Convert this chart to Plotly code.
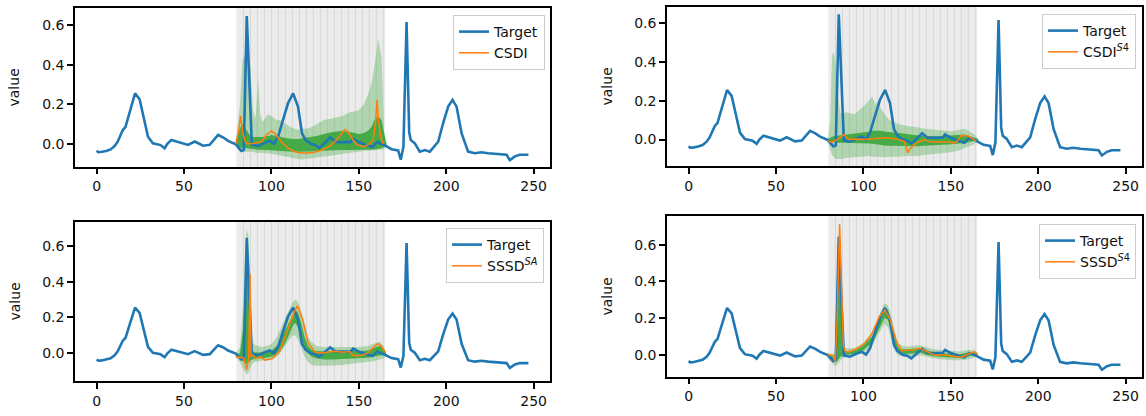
import plotly.graph_objects as go

# ---------------- data ----------------
target_x = [0, 1, 3, 5.5, 8, 10.3, 12, 15, 16.5, 19, 21, 22, 24.6, 27, 29.4, 32.2, 36.6, 38.9, 40.5, 42.8,
            47.5, 52.3, 56.1, 60.9, 64.7, 67.2, 69.5, 72.5, 75.2, 79.6, 82.8, 84.2, 85.9, 88.8, 92.3, 95.5,
            99, 101.5, 103.8, 106.6, 109.5, 112.4, 115.2, 117.5, 119.5, 122.5, 125, 127.4, 130, 133.6, 136.5,
            138.7, 145.3, 146.7, 150, 154.9, 157.7, 160.6, 163, 164.9, 168.7, 172.5, 174, 175.5, 177.3, 178.8,
            179.7, 182, 184.9, 187.8, 190.6, 193.5, 195.4, 198.2, 201.1, 203.6, 205.9, 208.8, 212.5, 216.3,
            220.1, 224, 228, 231.6, 234.5, 236.4, 239.3, 242, 247]
target_y = [-0.035, -0.042, -0.04, -0.036, -0.028, -0.011, 0.01, 0.07, 0.085, 0.163, 0.22, 0.255, 0.225, 0.13,
            0.036, 0.003, -0.006, -0.022, 0.0, 0.02, 0.006, -0.005, 0.012, -0.009, -0.005, 0.023, 0.045, 0.032,
            0.015, -0.002, -0.035, -0.03, 0.645, -0.004, -0.011, 0.003, 0.016, 0.0, 0.036, 0.12, 0.205, 0.255,
            0.188, 0.053, 0.02, 0.0, -0.005, -0.02, 0.0, 0.033, 0.011, 0.009, 0.009, 0.026, 0.009, -0.008, -0.016,
            0.009, 0.0, -0.008, -0.027, -0.033, -0.08, -0.014, 0.615, 0.06, 0.02, 0.003, -0.039, -0.031, -0.039,
            -0.006, 0.011, 0.104, 0.188, 0.222, 0.188, 0.053, -0.039, -0.047, -0.042, -0.047, -0.05, -0.055,
            -0.055, -0.082, -0.063, -0.055, -0.055]

# CSDI (top-left)
csdi_x = [79.6, 81.3, 82.4, 83.7, 85, 86.5, 90.3, 94.3, 97.1, 100, 101.9, 105.7, 109.5, 114.3, 119, 124.8,
          128.6, 133.4, 137.2, 140, 141.9, 143.8, 146.7, 149, 151, 153.4, 156.3, 158.2, 159.5, 160.4, 161.4,
          162.5, 163.9]
csdi_y = [0.0, 0.07, 0.14, 0.053, 0.013, 0.0, 0.003, 0.011, 0.045, 0.065, 0.053, 0.011, -0.022, -0.042,
          -0.047, -0.042, -0.032, -0.011, 0.02, 0.053, 0.073, 0.061, 0.02, -0.005, -0.01, -0.014, 0.003, 0.02,
          0.104, 0.221, 0.104, 0.036, 0.0]
csdi_band_x = [79.6, 81, 82, 83.4, 85, 86.5, 88, 89.5, 91, 92.3, 93.6, 95, 98, 100, 103, 105, 108, 112, 116,
               118, 122, 126, 130, 135, 140, 145, 150, 153, 155.8, 157.5, 158.9, 161, 163, 164.4, 165.5, 166]
csdi_q95 = [0.0, 0.1, 0.2, 0.42, 0.45, 0.44, 0.38, 0.17, 0.13, 0.34, 0.15, 0.11, 0.15, 0.14, 0.12, 0.12, 0.1,
            0.08, 0.07, 0.075, 0.08, 0.1, 0.12, 0.13, 0.14, 0.16, 0.17, 0.2, 0.26, 0.32, 0.39, 0.53, 0.44, 0.06,
            0.01, 0.0]
csdi_q05 = [0.0, -0.03, -0.04, -0.04, -0.04, -0.04, -0.04, -0.04, -0.045, -0.045, -0.045, -0.045, -0.047,
            -0.05, -0.055, -0.06, -0.065, -0.072, -0.078, -0.078, -0.072, -0.068, -0.063, -0.058, -0.05, -0.045,
            -0.04, -0.035, -0.035, -0.033, -0.03, -0.03, -0.03, -0.025, -0.015, 0.0]
csdi_q75 = [0.0, 0.05, 0.08, 0.1, 0.08, 0.06, 0.04, 0.035, 0.035, 0.035, 0.035, 0.035, 0.04, 0.045, 0.04,
            0.035, 0.03, 0.025, 0.025, 0.03, 0.035, 0.04, 0.05, 0.06, 0.065, 0.06, 0.05, 0.055, 0.07, 0.09,
            0.12, 0.14, 0.12, 0.05, 0.01, 0.0]
csdi_q25 = [0.0, -0.01, -0.018, -0.02, -0.022, -0.025, -0.027, -0.028, -0.03, -0.03, -0.03, -0.03, -0.031,
            -0.032, -0.034, -0.036, -0.038, -0.04, -0.04, -0.04, -0.039, -0.037, -0.035, -0.032, -0.031, -0.031,
            -0.031, -0.031, -0.031, -0.03, -0.028, -0.026, -0.022, -0.015, -0.008, 0.0]

# CSDI^S4 (top-right)
csdis4_x = [79.6, 81.5, 84, 86, 89, 90.5, 92, 96, 100, 104, 108, 113, 118.7, 123.4, 125.3, 126.5, 128.2, 131,
            134.9, 137, 139.6, 145, 149.1, 152, 154, 155.8, 159.6, 162.5, 164.4]
csdis4_y = [-0.005, -0.014, -0.005, 0.005, 0.026, 0.01, 0.0, 0.003, 0.0, 0.002, 0.005, 0.009, 0.003, -0.009,
            -0.068, -0.05, -0.034, -0.015, 0.0, -0.008, -0.012, -0.012, -0.012, -0.017, -0.005, 0.02, 0.02,
            0.003, -0.009]
csdis4_band_x = [79.6, 81, 82, 83, 84, 85, 87, 90, 95, 100, 103, 105, 107, 108.5, 110, 112, 115, 120, 125, 130,
                 135, 140, 145, 150, 155, 158, 160, 163, 165, 166]
csdis4_q95 = [0.0, 0.1, 0.43, 0.45, 0.4, 0.25, 0.13, 0.14, 0.13, 0.17, 0.2, 0.22, 0.18, 0.2, 0.16, 0.13, 0.1,
              0.08, 0.07, 0.065, 0.055, 0.05, 0.045, 0.043, 0.05, 0.055, 0.045, 0.03, 0.01, 0.0]
csdis4_q05 = [-0.01, -0.05, -0.08, -0.09, -0.1, -0.1, -0.1, -0.095, -0.09, -0.085, -0.085, -0.088, -0.09, -0.09,
              -0.09, -0.09, -0.09, -0.088, -0.085, -0.085, -0.08, -0.075, -0.07, -0.065, -0.055, -0.045, -0.038,
              -0.025, -0.012, 0.0]
csdis4_q75 = [0.0, 0.01, 0.015, 0.017, 0.02, 0.02, 0.022, 0.025, 0.03, 0.035, 0.04, 0.045, 0.046, 0.046, 0.045,
              0.042, 0.038, 0.034, 0.028, 0.022, 0.018, 0.017, 0.018, 0.02, 0.024, 0.026, 0.02, 0.012, 0.004, 0.0]
csdis4_q25 = [-0.01, -0.012, -0.015, -0.016, -0.017, -0.017, -0.017, -0.017, -0.017, -0.018, -0.02, -0.022,
              -0.025, -0.027, -0.028, -0.03, -0.032, -0.033, -0.034, -0.034, -0.032, -0.03, -0.027, -0.024, -0.02,
              -0.017, -0.014, -0.008, -0.004, 0.0]

# SSSD^SA (bottom-left)
sssdsa_x = [79.6, 82, 84.2, 85.9, 87.0, 87.8, 88.3, 89.3, 91, 93.5, 96.4, 100.5, 104.6, 108.7, 112.8, 114.9,
            117.9, 121, 125.1, 129.2, 135.4, 141.5, 144.6, 146.6, 151.7, 155.8, 158.9, 161, 163, 165]
sssdsa_y = [-0.02, -0.022, -0.026, -0.092, -0.03, 0.443, -0.02, -0.01, -0.03, -0.02, -0.039, -0.03, 0.011, 0.113,
            0.224, 0.265, 0.187, 0.057, 0.006, 0.002, 0.011, 0.006, 0.011, -0.013, -0.013, 0.006, 0.039, 0.054,
            0.039, 0.006]
sssdsa_band_x = [79.6, 82, 84, 85, 85.8, 86.8, 88, 89, 90, 92, 95, 100, 103, 105, 108, 110, 112, 113.5, 115, 117,
                 119, 121, 123, 126, 130, 135, 140, 145, 150, 155, 158, 160, 162, 164, 165.5]
sssdsa_q95 = [0.0, 0.03, 0.3, 0.6, 0.69, 0.66, 0.35, 0.08, 0.05, 0.04, 0.035, 0.05, 0.09, 0.13, 0.2, 0.24, 0.28,
              0.3, 0.29, 0.24, 0.16, 0.09, 0.06, 0.04, 0.035, 0.035, 0.035, 0.035, 0.035, 0.04, 0.05, 0.06, 0.065,
              0.04, 0.01]
sssdsa_q05 = [-0.02, -0.05, -0.09, -0.11, -0.12, -0.11, -0.08, -0.06, -0.05, -0.045, -0.04, -0.035, -0.02, 0.0,
              0.04, 0.07, 0.1, 0.1, 0.08, 0.03, -0.02, -0.05, -0.065, -0.07, -0.07, -0.068, -0.065, -0.06, -0.055,
              -0.05, -0.045, -0.04, -0.035, -0.03, -0.02]
sssdsa_q75 = [-0.005, 0.0, 0.15, 0.45, 0.62, 0.55, 0.2, 0.02, 0.005, 0.003, 0.003, 0.015, 0.04, 0.07, 0.13, 0.17,
              0.21, 0.24, 0.23, 0.17, 0.09, 0.04, 0.02, 0.012, 0.01, 0.012, 0.012, 0.012, 0.012, 0.015, 0.025,
              0.035, 0.04, 0.025, 0.005]
sssdsa_q25 = [-0.015, -0.03, -0.045, -0.055, -0.06, -0.055, -0.04, -0.035, -0.032, -0.03, -0.028, -0.02, -0.005,
              0.01, 0.06, 0.1, 0.15, 0.17, 0.15, 0.09, 0.03, 0.0, -0.02, -0.03, -0.035, -0.035, -0.033, -0.032,
              -0.03, -0.025, -0.02, -0.015, -0.012, -0.01, -0.005]

# SSSD^S4 (bottom-right)
sssds4_x = [79.7, 82.8, 83.9, 85, 86.4, 87.5, 88.5, 89.8, 92.3, 96.5, 100.7, 104.9, 109.1, 112.3, 115.4, 118.6,
            121.7, 128, 132.2, 136.5, 140.7, 147, 153.3, 157.5, 160.6, 163.8, 164.9]
sssds4_y = [0.0, -0.004, -0.038, 0.2, 0.713, 0.35, 0.05, 0.016, 0.016, 0.035, 0.062, 0.116, 0.207, 0.244, 0.189,
            0.08, 0.022, 0.025, 0.035, 0.016, -0.002, -0.002, -0.011, -0.011, 0.007, 0.016, 0.004]
sssds4_band_x = [79.6, 82, 83.5, 84.5, 85.3, 86.2, 87, 88, 89, 90, 95, 100, 105, 108, 110, 112, 114, 116, 118,
                 120, 123, 126, 130, 133, 136, 140, 145, 150, 155, 160, 163, 165.5]
sssds4_q95 = [0.01, 0.0, 0.0, 0.3, 0.6, 0.66, 0.55, 0.2, 0.05, 0.035, 0.035, 0.065, 0.12, 0.19, 0.24, 0.28, 0.27,
              0.21, 0.12, 0.06, 0.045, 0.045, 0.05, 0.05, 0.04, 0.03, 0.025, 0.02, 0.018, 0.025, 0.025, 0.01]
sssds4_q05 = [-0.02, -0.045, -0.06, -0.06, -0.05, -0.04, -0.03, -0.02, -0.015, -0.01, -0.005, 0.01, 0.05, 0.1,
              0.14, 0.17, 0.15, 0.08, 0.02, -0.005, -0.01, -0.01, -0.005, -0.005, -0.01, -0.02, -0.025, -0.03,
              -0.03, -0.025, -0.015, -0.01]
sssds4_q75 = [0.005, -0.01, -0.015, 0.2, 0.5, 0.64, 0.45, 0.12, 0.03, 0.02, 0.022, 0.05, 0.1, 0.16, 0.21, 0.255,
              0.245, 0.18, 0.09, 0.035, 0.03, 0.03, 0.035, 0.035, 0.025, 0.012, 0.008, 0.005, 0.003, 0.012, 0.012,
              0.004]
sssds4_q25 = [-0.01, -0.03, -0.04, -0.04, -0.03, -0.02, -0.01, -0.005, 0.0, 0.0, 0.005, 0.025, 0.065, 0.12, 0.16,
              0.2, 0.19, 0.12, 0.05, 0.01, 0.005, 0.005, 0.01, 0.01, 0.0, -0.008, -0.012, -0.016, -0.018, -0.01,
              -0.002, 0.0]

model_names = ["CSDI", "CSDI<sup><i>S</i>4</sup>", "SSSD<sup><i>SA</i></sup>", "SSSD<sup><i>S</i>4</sup>"]
missing_start, missing_end = 80, 165
x_ticks = [0, 50, 100, 150, 200, 250]
y_ticks = [0.0, 0.2, 0.4, 0.6]

# ---------------- layout geometry (pixels) ----------------
W, H = 1146, 416
FONT = "DejaVu Sans"
panels = [
    (csdi_x, csdi_y, csdi_band_x, csdi_q05, csdi_q25, csdi_q75, csdi_q95, (75, 550), (8.3, 166.7), (-0.115, 0.684), (545, 15)),
    (csdis4_x, csdis4_y, csdis4_band_x, csdis4_q05, csdis4_q25, csdis4_q75, csdis4_q95, (667, 1142), (7, 166), (-0.136, 0.682), (1136, 14)),
    (sssdsa_x, sssdsa_y, sssdsa_band_x, sssdsa_q05, sssdsa_q25, sssdsa_q75, sssdsa_q95, (75, 550), (222, 381), (-0.155, 0.733), (544, 228)),
    (sssds4_x, sssds4_y, sssds4_band_x, sssds4_q05, sssds4_q25, sssds4_q75, sssds4_q95, (667, 1142), (216.3, 376.7), (-0.12, 0.755), (1136, 224)),
]

BLUE = "#1f77b4"
ORANGE = "#ff7f0e"
LIGHT = "rgba(44,160,44,0.30)"
DARK = "rgba(44,160,44,0.80)"

fig = go.Figure()
layout = dict(width=W, height=H, margin=dict(l=0, r=0, t=0, b=0), paper_bgcolor="white",
              plot_bgcolor="white", showlegend=True, font=dict(family=FONT, size=14, color="#111"))
shapes = []
annotations = []

for i, (mx, my, bx, q05, q25, q75, q95, xd, yd, yr, lg) in enumerate(panels):
    n = i + 1
    xa = "x" if n == 1 else f"x{n}"
    ya = "y" if n == 1 else f"y{n}"
    leg = "legend" if n == 1 else f"legend{n}"

    for lo, hi, col in ((q05, q95, LIGHT), (q25, q75, DARK)):
        fig.add_trace(go.Scatter(x=bx, y=lo, mode="lines", line=dict(width=0), xaxis=xa, yaxis=ya,
                                 showlegend=False, hoverinfo="skip", legend=leg))
        fig.add_trace(go.Scatter(x=bx, y=hi, mode="lines", line=dict(width=0), fill="tonexty", fillcolor=col,
                                 xaxis=xa, yaxis=ya, showlegend=False, hoverinfo="skip", legend=leg))
    fig.add_trace(go.Scatter(x=target_x, y=target_y, mode="lines", name="Target",
                             line=dict(color=BLUE, width=2.6), xaxis=xa, yaxis=ya, legend=leg, legendrank=1))
    fig.add_trace(go.Scatter(x=mx, y=my, mode="lines", name=model_names[i],
                             line=dict(color=ORANGE, width=1.5), xaxis=xa, yaxis=ya, legend=leg, legendrank=2))

    dom_x = [xd[0] / W, xd[1] / W]
    dom_y = [1 - yd[1] / H, 1 - yd[0] / H]
    axis_common = dict(showline=True, mirror=True, linecolor="black", linewidth=1.5, ticks="outside",
                       ticklen=6, tickwidth=1.5, tickcolor="black", showgrid=False, zeroline=False,
                       automargin=False, tickfont=dict(family=FONT, size=14, color="#111"))
    layout["xaxis" if n == 1 else f"xaxis{n}"] = dict(domain=dom_x, range=[-12.35, 259.35], tickvals=x_ticks,
                                                       anchor=ya, **axis_common)
    layout["yaxis" if n == 1 else f"yaxis{n}"] = dict(domain=dom_y, range=list(yr), tickvals=y_ticks,
                                                       tickformat=".1f", anchor=xa, **axis_common)
    layout[leg] = dict(x=lg[0] / W, y=1 - lg[1] / H, xanchor="right", yanchor="top", bgcolor="rgba(255,255,255,0.8)",
                       bordercolor="#cccccc", borderwidth=1, font=dict(family=FONT, size=14, color="#111"),
                       tracegroupgap=0, itemwidth=30, traceorder="normal")

    shapes.append(dict(type="rect", xref=xa, yref=f"{ya} domain", x0=missing_start, x1=missing_end, y0=0, y1=1,
                       fillcolor="#ebebeb", line=dict(width=0), layer="below"))
    for xv in range(missing_start + 4, missing_end, 4):
        shapes.append(dict(type="line", xref=xa, yref=f"{ya} domain", x0=xv, x1=xv, y0=0, y1=1,
                           line=dict(color="#d7d7d7", width=1), layer="below"))
    annotations.append(dict(text="value", xref="paper", yref="paper", x=(xd[0] - 61) / W,
                            y=1 - (yd[0] + yd[1]) / 2 / H, textangle=-90, showarrow=False,
                            xanchor="center", yanchor="middle", font=dict(family=FONT, size=14, color="#111")))

layout["shapes"] = shapes
layout["annotations"] = annotations
fig.update_layout(**layout)
fig.write_html("out.html", config={"displayModeBar": False})
